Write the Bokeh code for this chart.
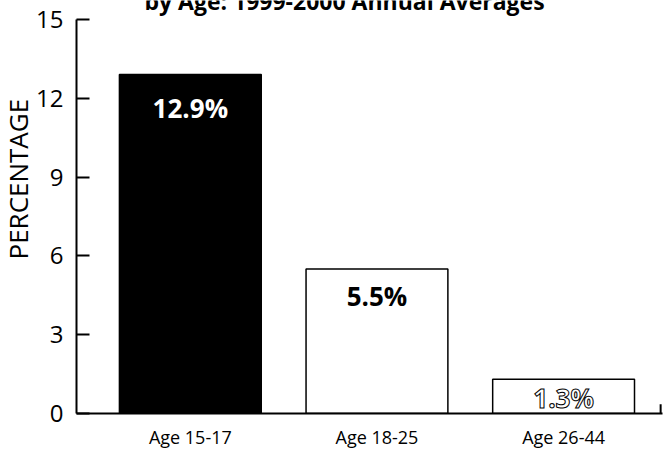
from bokeh.plotting import figure
from bokeh.models import Range1d, FixedTicker, Label, ColumnDataSource, Title
from bokeh.core.properties import value
from bokeh.embed import file_html
from bokeh.resources import INLINE

categories = ["Age 15-17", "Age 18-25", "Age 26-44"]
percentages = [12.9, 5.5, 1.3]
bar_labels = ["12.9%", "5.5%", "1.3%"]
y_ticks = [0, 3, 6, 9, 12, 15]
title_text = "by Age: 1999-2000 Annual Averages"

FONT = "Open Sans"
xs = [1, 2, 3]
Y_MAX = 15

p = figure(width=665, height=451, output_backend="svg", toolbar_location=None,
           x_range=Range1d(0.39, 3.53), y_range=Range1d(0, Y_MAX * 414 / 395),
           min_border_left=75, min_border_right=3, min_border_top=0, min_border_bottom=37)
p.outline_line_color = None
p.xgrid.grid_line_color = None
p.ygrid.grid_line_color = None
p.background_fill_color = "white"
p.border_fill_color = "white"

src = ColumnDataSource(dict(x=xs, top=percentages, fill=["black", "white", "white"]))
p.vbar(x="x", top="top", bottom=0, width=0.76, source=src,
       fill_color="fill", line_color="black", line_width=1.5)

# value labels
common = dict(text_font=value(FONT), text_font_style="bold", text_font_size="26px",
              text_align="center", text_baseline="middle")
p.text(x=[xs[0]], y=[percentages[0]], text=[bar_labels[0]], text_color="white",
       y_offset=33, **common)
p.text(x=[xs[1]], y=[percentages[1]], text=[bar_labels[1]], text_color="black",
       y_offset=27, **common)
p.text(x=[xs[2]], y=[percentages[2]], text=[bar_labels[2]], text_color="white",
       text_outline_color="black", y_offset=19, **common)

# small closing tick at right end of the x axis
p.segment(x0=[p.x_range.end - 0.01], x1=[p.x_range.end - 0.01], y0=[0], y1=[0.35],
          line_color="black", line_width=2)

# y axis
ya = p.yaxis[0]
ya.ticker = FixedTicker(ticks=y_ticks)
ya.bounds = (0, Y_MAX)
ya.major_tick_in = 13
ya.major_tick_out = 0
ya.minor_tick_line_color = None
ya.axis_line_width = 2
ya.major_tick_line_width = 2
ya.major_label_standoff = 13
ya.major_label_text_font = FONT
ya.major_label_text_font_size = "24px"
ya.major_label_text_color = "black"

# x axis
xa = p.xaxis[0]
xa.ticker = FixedTicker(ticks=xs)
xa.major_label_overrides = {x: c for x, c in zip(xs, categories)}
xa.major_tick_in = 0
xa.major_tick_out = 0
xa.minor_tick_line_color = None
xa.axis_line_width = 2
xa.major_label_standoff = 11
xa.major_label_text_font = FONT
xa.major_label_text_font_size = "18px"
xa.major_label_text_color = "black"

p.add_layout(Title(text="PERCENTAGE", align="left", offset=154, standoff=-5,
                   text_font=FONT, text_font_size="26px", text_font_style="normal",
                   text_color="black"), "left")

p.add_layout(Label(x=268, y=413, x_units="screen", y_units="screen", text=title_text,
                   text_align="center", text_baseline="alphabetic",
                   text_font=FONT, text_font_style="bold", text_font_size="23px",
                   text_color="black"))

open("out.html", "w").write(file_html(p, INLINE))
